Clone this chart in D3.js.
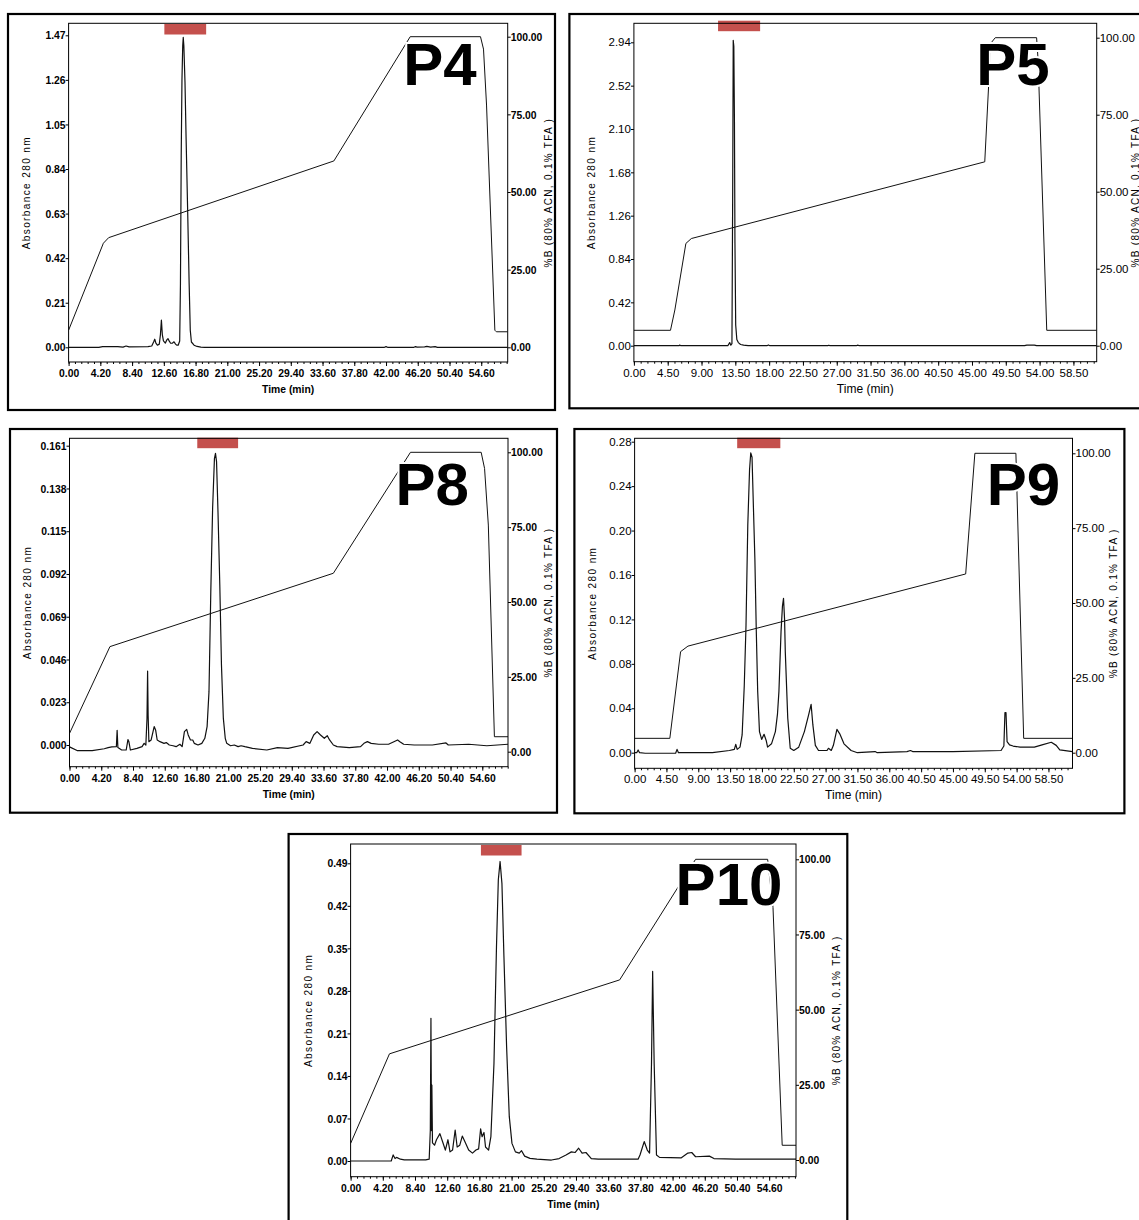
<!DOCTYPE html>
<html><head><meta charset="utf-8">
<script src="https://cdn.jsdelivr.net/npm/d3@7"></script>
<style>body{margin:0;background:#fff}svg{display:block}</style>
</head><body>
<svg id="c" width="1139" height="1220"></svg>
<script>
// ---------------- DATA ----------------
const panelNames = ["P4", "P5", "P8", "P9", "P10"];

const xTicks42 = [0, 4.2, 8.4, 12.6, 16.8, 21.0, 25.2, 29.4, 33.6, 37.8, 42.0, 46.2, 50.4, 54.6];
const xTicks45 = [0, 4.5, 9.0, 13.5, 18.0, 22.5, 27.0, 31.5, 36.0, 40.5, 45.0, 49.5, 54.0, 58.5];
const yTicksP4 = [0, 0.21, 0.42, 0.63, 0.84, 1.05, 1.26, 1.47];
const yTicksP5 = [0, 0.42, 0.84, 1.26, 1.68, 2.10, 2.52, 2.94];
const yTicksP8 = [0, 0.023, 0.046, 0.069, 0.092, 0.115, 0.138, 0.161];
const yTicksP9 = [0, 0.04, 0.08, 0.12, 0.16, 0.20, 0.24, 0.28];
const yTicksP10 = [0, 0.07, 0.14, 0.21, 0.28, 0.35, 0.42, 0.49];
const pctTicks = [0, 25, 50, 75, 100];

const xTitle = "Time (min)";
const yTitle = "Absorbance 280 nm";
const rTitle = "%B (80% ACN, 0.1% TFA )";

// collected fraction (min) shown as red bar
const p4Fraction = [12.67, 18.2];
const p5Fraction = [11.2, 16.8];
const p8Fraction = [16.9, 22.3];
const p9Fraction = [14.5, 20.6];
const p10Fraction = [17.0, 22.3];

// gradient %B  [time, %]
const p4Gradient = [[0,5.5],[4.6,33.5],[5.3,35.3],[35.1,60],[45.2,100],[54.5,100],[54.9,96],[55.3,78],[56.4,5.5],[56.6,5],[58.1,5]];
const p5Gradient = [[0,5],[4.87,5],[5.45,11.6],[6.92,33.2],[7.65,34.8],[46.7,59.7],[47.5,98.2],[48.1,100],[53.6,100],[53.8,92.8],[54.95,5],[61.6,5]];
const p8Gradient = [[0,6.1],[5.35,35.1],[34.9,59.6],[45.1,100],[54.45,100],[54.9,94.6],[55.4,75.7],[56.2,5],[58.0,5]];
const p9Gradient = [[0,4.8],[4.98,4.8],[6.5,33.75],[7.54,35.6],[46.8,59.7],[48.1,100],[53.9,100],[55.0,4.8],[61.9,4.8]];
const p10Gradient = [[0,5.5],[5.07,35.3],[35.1,59.9],[45.0,100],[54.4,100],[55.1,84],[56.3,4.9],[58.1,4.9]];

// absorbance traces [time, AU]
const p4Trace = [[0,0],[4.0,0],[4.5,0.003],[6.5,0.003],[7.2,0.001],[7.6,0.006],[8.0,0.002],[10.5,0.003],[11.0,0.006],[11.25,0.025],[11.4,0.038],[11.55,0.02],[11.75,0.01],[12.0,0.015],[12.15,0.06],[12.28,0.128],[12.4,0.06],[12.55,0.03],[12.8,0.02],[13.0,0.035],[13.15,0.041],[13.3,0.03],[13.5,0.019],[13.75,0.02],[13.95,0.026],[14.15,0.015],[14.3,0.01],[14.5,0.01],[14.7,0.03],[14.8,0.3],[14.9,0.9],[15.0,1.26],[15.1,1.42],[15.17,1.46],[15.25,1.42],[15.4,1.25],[15.55,0.98],[15.75,0.65],[15.95,0.3],[16.1,0.08],[16.25,0.025],[16.6,0.01],[17.0,0.004],[17.5,0.001],[18,0],[41.8,0],[42.0,0.003],[42.2,0],[45.7,0],[45.9,0.003],[46.1,0.001],[47.1,0.002],[47.4,0.004],[47.9,0.001],[48.5,0.003],[48.8,0],[58.1,0]];
const p5Trace = [[0,0],[6.0,0],[6.1,0.006],[6.25,0],[12.5,0],[12.75,0.03],[12.9,0.005],[13.05,0.02],[13.15,1.5],[13.22,2.96],[13.3,2.9],[13.38,2.2],[13.45,1.0],[13.55,0.2],[13.7,0.06],[13.9,0.03],[14.2,0.012],[14.6,0.005],[15.2,0.001],[17.7,0],[17.9,0.007],[18.1,0],[25.8,0],[25.95,0.005],[26.1,0],[29.6,0],[29.8,0.005],[30.0,0],[52.0,0],[52.3,0.006],[53.3,0.006],[53.6,0],[61.6,0]];
const p8Trace = [[0,-0.001],[1,-0.003],[3,-0.003],[4.6,-0.002],[5.11,-0.0014],[5.6,-0.001],[6.2,-0.0009],[6.3,0.0079],[6.4,-0.0014],[6.9,-0.0027],[7.5,-0.0027],[7.73,0.0029],[7.86,0.0017],[8.05,-0.0027],[8.92,-0.0018],[9.6,-0.0009],[9.87,0.0009],[10.1,0],[10.25,0.0143],[10.33,0.0398],[10.4,0.016],[10.5,0.0018],[10.8,0.0027],[11.2,0.0099],[11.4,0.0079],[11.6,0.0027],[11.97,0.0018],[12.5,0.0009],[12.8,0.0013],[13.2,0],[13.7,-0.0004],[14.1,-0.0009],[14.6,0.0004],[14.9,-0.0009],[15.2,0.0072],[15.5,0.0084],[15.7,0.0054],[16.0,0.0027],[16.3,0.0027],[16.5,0.0009],[17.0,0],[17.5,0.0009],[17.9,0.0036],[18.2,0.0099],[18.45,0.0287],[18.69,0.0825],[18.93,0.1273],[19.17,0.154],[19.31,0.1569],[19.45,0.1524],[19.64,0.1255],[19.88,0.0861],[20.1,0.043],[20.35,0.0143],[20.6,0.0036],[20.8,0.0009],[21.3,-0.0004],[21.8,0],[22.3,-0.0009],[22.7,-0.0004],[23.2,-0.0009],[24.2,-0.0018],[26.1,-0.0027],[27.5,-0.0014],[28.9,-0.0018],[30.9,0],[31.3,0.0018],[31.8,0.0009],[32.3,0.0054],[32.75,0.0072],[33.2,0.0054],[33.7,0.0036],[34.1,0.005],[34.4,0.0027],[34.9,0],[35.4,-0.0009],[37.0,-0.0014],[38.5,-0.0009],[38.95,0.0009],[39.4,0.0018],[39.9,0.0009],[40.9,0.0004],[42.2,0.0004],[43.4,0.0027],[43.7,0.0018],[44.2,0.0004],[45.6,0],[48.0,0],[49.8,0.0011],[50.1,0],[52.8,0.0004],[55.2,-0.0004],[56.6,0],[58.0,0.0004]];
const p9Trace = [[0,0],[0.3,0],[0.5,0.0025],[0.7,0],[1.5,-0.0005],[5.8,-0.0005],[6.0,0.003],[6.2,0],[11,0],[13.4,0.002],[14.1,0.003],[14.3,0.0075],[14.5,0.003],[14.9,0.005],[15.2,0.016],[15.5,0.06],[15.75,0.115],[16.0,0.205],[16.25,0.255],[16.42,0.27],[16.6,0.266],[16.8,0.22],[17.0,0.175],[17.2,0.11],[17.4,0.055],[17.65,0.019],[17.96,0.012],[18.3,0.0166],[18.6,0.011],[18.8,0.005],[19.35,0.008],[19.9,0.019],[20.2,0.035],[20.4,0.055],[20.7,0.109],[20.9,0.132],[21.05,0.139],[21.2,0.12],[21.3,0.091],[21.65,0.031],[22.0,0.004],[22.5,0.002],[23.2,0.005],[24.0,0.019],[24.6,0.034],[24.95,0.0435],[25.2,0.025],[25.55,0.0066],[26,0.002],[27.2,0.002],[27.4,0.004],[27.8,0.002],[28.1,0.0067],[28.6,0.021],[29.0,0.017],[29.6,0.008],[30.6,0.002],[31.5,0],[34,0.001],[34.3,0],[38.5,0.001],[39,0.002],[39.3,0.001],[45,0.001],[51.8,0.002],[52.2,0.006],[52.35,0.036],[52.5,0.036],[52.65,0.01],[53,0.007],[53.5,0.006],[54.5,0.005],[56.5,0.005],[57.6,0.007],[58.9,0.0094],[59.6,0.0066],[60.1,0.0025],[61.9,0.001]];
const p10Trace = [[0,0],[5.3,0],[5.55,0.01],[5.8,0.004],[6.0,0.006],[6.5,0.003],[7.0,0.002],[9.8,0.002],[10.25,0.003],[10.4,0.051],[10.48,0.235],[10.55,0.05],[10.6,0.125],[10.68,0.03],[10.95,0.026],[11.2,0.035],[11.65,0.045],[11.99,0.032],[12.36,0.018],[12.7,0.035],[12.97,0.015],[13.3,0.018],[13.64,0.051],[13.9,0.023],[14.24,0.026],[14.57,0.041],[14.9,0.032],[15.4,0.018],[15.9,0.013],[16.35,0.018],[16.7,0.02],[16.96,0.053],[17.15,0.04],[17.4,0.047],[17.6,0.023],[18.0,0.018],[18.3,0.04],[18.7,0.16],[19.03,0.353],[19.27,0.463],[19.5,0.493],[19.74,0.457],[20.0,0.337],[20.35,0.188],[20.7,0.073],[21.05,0.029],[21.5,0.015],[22.0,0.013],[22.3,0.017],[22.7,0.008],[23.4,0.0044],[24.3,0.003],[26.2,0.0016],[27.2,0.004],[28.1,0.0099],[28.8,0.015],[29.3,0.014],[29.75,0.021],[30.2,0.013],[30.7,0.014],[31.4,0.004],[32.3,0.003],[37.5,0.003],[37.75,0.0099],[38.3,0.032],[38.7,0.018],[39.0,0.013],[39.25,0.16],[39.4,0.312],[39.6,0.16],[39.9,0.0099],[40.3,0.006],[43.1,0.005],[44.0,0.013],[44.5,0.014],[45.0,0.007],[46.8,0.008],[47.4,0.004],[50.2,0.003],[58.1,0.003]];

// ---------------- LAYOUT ----------------
const panels = [
  {name:"P4",  box:[8,14,555,410],        plot:[68.6,23.3,507.7,362],  xMax:58.1, xTicks:xTicks42, yTicks:yTicksP4,  yDec:2, yZero:347.3, yTopPx:35.3, rZero:347.3, r100:36.7, barTop:24,    lab:[440,85],    bold:true,  trace:p4Trace,  grad:p4Gradient,  frac:p4Fraction},
  {name:"P5",  box:[569.4,14,1160,408.3], plot:[633.9,23.3,1096.7,361.7], xMax:61.6, xTicks:xTicks45, yTicks:yTicksP5, yDec:2, yZero:345.7, yTopPx:42.3, rZero:345.7, r100:37.7, barTop:20.7, lab:[1012.9,85], bold:false, trace:p5Trace,  grad:p5Gradient,  frac:p5Fraction},
  {name:"P8",  box:[10,429,557,812.7],    plot:[69.5,438.3,508,766.7], xMax:58.0, xTicks:xTicks42, yTicks:yTicksP8,  yDec:3, yZero:745,   yTopPx:445.7, rZero:751.7, r100:452.3, barTop:437.7, lab:[432.3,505], bold:true,  trace:p8Trace,  grad:p8Gradient,  frac:p8Fraction},
  {name:"P9",  box:[574.4,429,1124.4,813.3], plot:[634.6,438.3,1072.5,768.3], xMax:61.9, xTicks:xTicks45, yTicks:yTicksP9, yDec:2, yZero:752.7, yTopPx:441.7, rZero:752.7, r100:453.3, barTop:437.7, lab:[1023.5,505], bold:false, trace:p9Trace, grad:p9Gradient, frac:p9Fraction},
  {name:"P10", box:[288.6,834,847.3,1240], plot:[350.6,844,796,1176.7], xMax:58.1, xTicks:xTicks42, yTicks:yTicksP10, yDec:2, yZero:1161, yTopPx:863.3, rZero:1160, r100:859.3, barTop:845, lab:[729,905], bold:true, trace:p10Trace, grad:p10Gradient, frac:p10Fraction}
];

const SANS = "'Liberation Sans',Arial,sans-serif";
const svg = d3.select("#c");
const defs = svg.append("defs");

function condense(sel, k) {
  if (k >= 1) return;
  sel.each(function () {
    const w = this.getComputedTextLength();
    if (w > 0) d3.select(this).attr("textLength", w * k).attr("lengthAdjust", "spacingAndGlyphs");
  });
}

panels.forEach((p, i) => {
  const [L, T, R, B] = p.plot;
  const g = svg.append("g");
  g.append("rect").attr("x", p.box[0]).attr("y", p.box[1])
    .attr("width", p.box[2] - p.box[0]).attr("height", p.box[3] - p.box[1])
    .attr("fill", "none").attr("stroke", "#000").attr("stroke-width", 2.2);

  const x = d3.scaleLinear().domain([0, p.xMax]).range([L, R]);
  const yTop = p.yTicks[p.yTicks.length - 1];
  const y = d3.scaleLinear().domain([0, yTop]).range([p.yZero, p.yTopPx]);
  const yr = d3.scaleLinear().domain([0, 100]).range([p.rZero, p.r100]);

  const cid = "clip" + i;
  defs.append("clipPath").attr("id", cid).append("rect")
    .attr("x", L).attr("y", T).attr("width", R - L).attr("height", B - T);

  const plotG = g.append("g").attr("clip-path", `url(#${cid})`);
  plotG.append("path").datum(p.grad)
    .attr("d", d3.line().x(d => x(d[0])).y(d => yr(d[1])))
    .attr("fill", "none").attr("stroke", "#111").attr("stroke-width", 1);
  plotG.append("path").datum(p.trace)
    .attr("d", d3.line().x(d => x(d[0])).y(d => y(d[1])))
    .attr("fill", "none").attr("stroke", "#111").attr("stroke-width", 1.2)
    .attr("stroke-linejoin", "round");

  g.append("text").attr("x", p.lab[0]).attr("y", p.lab[1])
    .attr("text-anchor", "middle").attr("font-family", SANS).attr("font-weight", "bold")
    .attr("font-size", 60).attr("fill", "#000")
    .attr("stroke", "#fff").attr("stroke-width", 4).attr("paint-order", "stroke")
    .text(p.name);

  g.append("rect").attr("x", x(p.frac[0])).attr("y", p.barTop)
    .attr("width", x(p.frac[1]) - x(p.frac[0])).attr("height", 10.5)
    .attr("fill", "#c4504d");

  g.append("rect").attr("x", L).attr("y", T).attr("width", R - L).attr("height", B - T)
    .attr("fill", "none").attr("stroke", "#000").attr("stroke-width", 1);

  const fw = p.bold ? "bold" : "normal";
  const fs = 11.5;
  const kq = p.bold ? 0.9 : 1;
  const styleAxis = sel => {
    sel.select(".domain").remove();
    sel.selectAll("text").attr("font-family", SANS).attr("font-size", fs)
      .attr("font-weight", fw).attr("fill", "#000").call(condense, kq);
    sel.selectAll("line").attr("stroke", "#000");
  };

  g.append("g").attr("transform", `translate(${L},0)`)
    .call(d3.axisLeft(y).tickValues(p.yTicks).tickSize(3).tickPadding(0)
      .tickFormat(d3.format("." + p.yDec + "f")))
    .call(styleAxis);
  g.append("g").attr("transform", `translate(${R},0)`)
    .call(d3.axisRight(yr).tickValues(pctTicks).tickSize(3).tickPadding(0)
      .tickFormat(d3.format(".2f")))
    .call(styleAxis);
  const step = p.xTicks[1] / 5;
  g.append("g").attr("transform", `translate(0,${B})`)
    .call(d3.axisBottom(x).tickValues(d3.range(0, p.xMax, step)).tickSize(2).tickFormat(""))
    .call(styleAxis);
  g.append("g").attr("transform", `translate(0,${B})`)
    .call(d3.axisBottom(x).tickValues(p.xTicks).tickSize(4).tickPadding(3)
      .tickFormat(d3.format(".2f")))
    .call(styleAxis);

  g.append("text").attr("x", (L + R) / 2).attr("y", B + 31)
    .attr("text-anchor", "middle").attr("font-family", SANS)
    .attr("font-size", p.bold ? 11.5 : 12)
    .attr("font-weight", fw).text(xTitle).call(condense, p.bold ? 0.9 : 1);
  const cy = (T + B) / 2;
  g.append("text").attr("transform", `translate(${L - 39},${cy}) rotate(-90)`)
    .attr("text-anchor", "middle").attr("font-family", SANS).attr("font-size", 10)
    .attr("letter-spacing", 1.4).text(yTitle);
  const rx = Math.min(R + 44, 1138.5);
  g.append("text").attr("transform", `translate(${rx},${cy}) rotate(-90)`)
    .attr("text-anchor", "middle").attr("font-family", SANS).attr("font-size", 10)
    .attr("letter-spacing", 1.3).text(rTitle);
});
</script>
</body></html>
